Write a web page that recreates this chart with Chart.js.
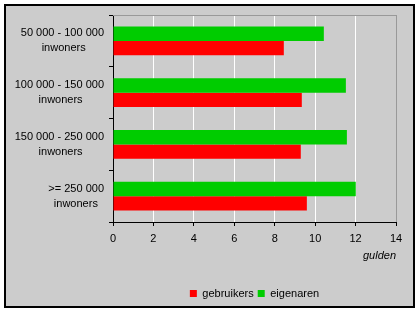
<!DOCTYPE html>
<html>
<head>
<meta charset="utf-8">
<script src="https://cdn.jsdelivr.net/npm/chart.js@4/dist/chart.umd.min.js"></script>
<style>
  html, body { margin: 0; background: #fff; }
  #frame {
    position: absolute; left: 4px; top: 4px; width: 411px; height: 304px;
    box-sizing: border-box; border: 2px solid #000; background: #ccc;
  }
  #frame canvas { display: block; }
</style>
</head>
<body>
<div id="frame"><canvas id="c" width="407" height="300" style="width:407px;height:300px"></canvas></div>
<script>
const categories = [
  ["50 000 - 100 000", "inwoners"],
  ["100 000 - 150 000", "inwoners"],
  ["150 000 - 250 000", "inwoners"],
  [">= 250 000", "inwoners"]
];
const gebruikers = [8.45, 9.34, 9.29, 9.59];
const eigenaren = [10.43, 11.52, 11.57, 12.01];
const xTicks = [0, 2, 4, 6, 8, 10, 12, 14];
const xUnit = "gulden";

const FONT = '"Liberation Sans", Arial, sans-serif';
Chart.defaults.font.family = FONT;
Chart.defaults.font.size = 11;
Chart.defaults.color = "#000";

// centre the second line under the first by padding it with spaces (labels are right aligned)
const mctx = document.createElement("canvas").getContext("2d");
mctx.font = "11px " + FONT;
const spaceW = mctx.measureText(" ").width;
const yLabels = categories.map(([a, b]) => {
  const n = Math.max(0, Math.round((mctx.measureText(a).width - mctx.measureText(b).width) / 2 / spaceW));
  return [a, b + " ".repeat(n)];
});

new Chart(document.getElementById("c"), {
  type: "bar",
  data: {
    labels: yLabels,
    datasets: [
      { label: "eigenaren", data: eigenaren, backgroundColor: "#00cc00", borderWidth: 0 },
      { label: "gebruikers", data: gebruikers, backgroundColor: "#ff0000", borderWidth: 0 }
    ]
  },
  options: {
    indexAxis: "y",
    responsive: false,
    animation: false,
    categoryPercentage: 0.56,
    barPercentage: 1,
    layout: { padding: { top: 9, right: 17, bottom: -3, left: 0 } },
    plugins: {
      tooltip: { enabled: false },
      legend: {
        position: "bottom",
        fullSize: false,
        reverse: true,
        labels: { boxWidth: 7, boxHeight: 7, padding: 4, color: "#000", font: { size: 11 } }
      }
    },
    scales: {
      y: {
        grid: { offset: true, drawOnChartArea: false, color: "#000", tickLength: 4 },
        border: { color: "#000" },
        ticks: { color: "#000", padding: 5, font: { size: 11, lineHeight: 1.35 } },
        afterFit(s) { s.width = 107; s.paddingTop = 0; s.paddingBottom = 0; }
      },
      x: {
        min: 0, max: 14,
        afterBuildTicks(s) { s.ticks = xTicks.map(v => ({ value: v })); },
        ticks: { color: "#000", padding: 6, font: { size: 11 } },
        grid: {
          color: ctx => (ctx.tick && ctx.tick.value === 14 ? "#999999" : "#ffffff"),
          tickColor: "#000",
          tickLength: 4
        },
        border: { color: "#000" },
        title: {
          display: true, text: xUnit, align: "end", color: "#000",
          font: { size: 11, style: "italic" }, padding: { top: 4, bottom: 21 }
        },
        afterFit(s) { s.height = 62; }
      },
      x2: {
        position: "top",
        min: 0, max: 14,
        ticks: { display: false },
        grid: { drawOnChartArea: false, drawTicks: false },
        border: { color: "#999999" },
        afterFit(s) { s.height = 0; }
      }
    }
  }
});
</script>
</body>
</html>
